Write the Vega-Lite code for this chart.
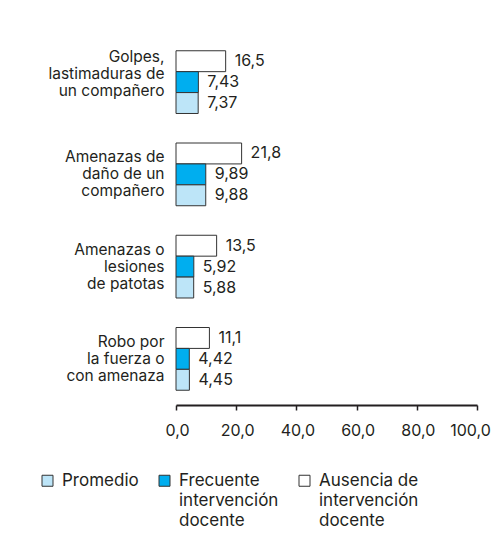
{
  "$schema": "https://vega.github.io/schema/vega-lite/v6.json",
  "autosize": {"type": "none"},
  "width": 301,
  "height": 369,
  "padding": {"left": 176, "top": 36, "right": 26, "bottom": 153},
  "background": "white",
  "data": {
    "values": [
      {"cat": "Golpes,|lastimaduras de|un compañero", "serie": "Ausencia de intervención docente", "valor": 16.5},
      {"cat": "Golpes,|lastimaduras de|un compañero", "serie": "Frecuente intervención docente", "valor": 7.43},
      {"cat": "Golpes,|lastimaduras de|un compañero", "serie": "Promedio", "valor": 7.37},
      {"cat": "Amenazas de|daño de un|compañero", "serie": "Ausencia de intervención docente", "valor": 21.8},
      {"cat": "Amenazas de|daño de un|compañero", "serie": "Frecuente intervención docente", "valor": 9.89},
      {"cat": "Amenazas de|daño de un|compañero", "serie": "Promedio", "valor": 9.88},
      {"cat": "Amenazas o|lesiones|de patotas", "serie": "Ausencia de intervención docente", "valor": 13.5},
      {"cat": "Amenazas o|lesiones|de patotas", "serie": "Frecuente intervención docente", "valor": 5.92},
      {"cat": "Amenazas o|lesiones|de patotas", "serie": "Promedio", "valor": 5.88},
      {"cat": "Robo por|la fuerza o|con amenaza", "serie": "Ausencia de intervención docente", "valor": 11.1},
      {"cat": "Robo por|la fuerza o|con amenaza", "serie": "Frecuente intervención docente", "valor": 4.42},
      {"cat": "Robo por|la fuerza o|con amenaza", "serie": "Promedio", "valor": 4.45}
    ]
  },
  "encoding": {
    "y": {
      "field": "cat", "type": "nominal", "sort": null,
      "scale": {"paddingInner": 0.32, "paddingOuter": 0.16},
      "axis": {
        "title": null, "ticks": false, "domain": false,
        "labelExpr": "split(datum.value, '|')",
        "labelFontSize": 15.5, "labelLineHeight": 17, "labelPadding": 12,
        "labelOffset": {"condition": {"test": "indexof(datum.value, 'Golpes') == 0", "value": -25}, "value": -17},
        "labelColor": "#231f20", "labelFont": "Inter", "labelAlign": "right", "labelBaseline": "middle"
      }
    },
    "yOffset": {
      "field": "serie", "type": "nominal",
      "sort": ["Ausencia de intervención docente", "Frecuente intervención docente", "Promedio"],
      "scale": {"paddingInner": 0, "paddingOuter": 0}
    },
    "x": {
      "field": "valor", "type": "quantitative",
      "scale": {"domain": [0, 100], "nice": false},
      "axis": {
        "title": null, "values": [0, 20, 40, 60, 80, 100], "format": ".1f", "grid": false,
        "domainColor": "#231f20", "domainWidth": 2, "tickColor": "#231f20", "tickWidth": 1.5, "tickSize": 5,
        "labelOverlap": false, "labelBound": false, "labelFlush": false,
        "labelOffset": {"condition": {"test": "datum.value == 100", "value": -7}, "value": 1},
        "labelFontSize": 16, "labelColor": "#231f20", "labelFont": "Inter", "labelPadding": 12
      }
    }
  },
  "layer": [
    {
      "mark": {"type": "bar", "stroke": "#333333", "strokeWidth": 1},
      "encoding": {
        "color": {
          "field": "serie", "type": "nominal",
          "scale": {
            "domain": ["Promedio", "Frecuente intervención docente", "Ausencia de intervención docente"],
            "range": ["#BDE5F8", "#00AEEF", "#FFFFFF"]
          },
          "legend": {
            "title": null, "orient": "none", "legendX": -137, "legendY": 436,
            "direction": "horizontal", "columns": 3, "columnPadding": 17,
            "symbolType": "square", "symbolSize": 121, "symbolStrokeColor": "#333333", "symbolStrokeWidth": 1,
            "symbolOpacity": 1,
            "labelExpr": "datum.value == 'Promedio' ? ['Promedio', '', ''] : datum.value == 'Frecuente intervención docente' ? ['Frecuente', 'intervención', 'docente'] : ['Ausencia de', 'intervención', 'docente']",
            "labelFontSize": 17, "labelColor": "#231f20", "labelFont": "Inter", "labelOffset": 6,
            "labelBaseline": "middle", "labelLimit": 200
          }
        }
      }
    },
    {
      "mark": {"type": "text", "align": "left", "baseline": "middle", "dx": 9, "fontSize": 16, "font": "Inter", "color": "#231f20"},
      "encoding": {
        "text": {"field": "valor", "type": "quantitative", "format": ".3r"}
      }
    }
  ],
  "config": {
    "view": {"stroke": null},
    "style": {"guide-label": {"lineHeight": 20}},
    "locale": {"number": {"decimal": ",", "thousands": ".", "grouping": [3], "currency": ["", " €"]}}
  }
}
